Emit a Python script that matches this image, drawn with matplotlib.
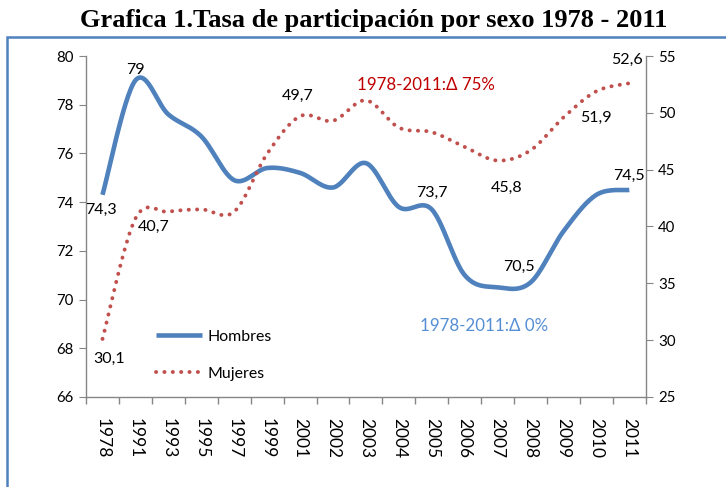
import matplotlib
matplotlib.use('Agg')
import matplotlib.pyplot as plt
from matplotlib.patches import Rectangle
import numpy as np

################################################################

years = ['1978', '1991', '1993', '1995', '1997', '1999', '2001', '2002', '2003',
         '2004', '2005', '2006', '2007', '2008', '2009', '2010', '2011']
hombres = [74.3, 79.0, 77.6, 76.7, 74.9, 75.4, 75.2, 74.6, 75.6,
           73.8, 73.7, 71.0, 70.5, 70.7, 72.8, 74.3, 74.5]
mujeres = [30.1, 40.7, 41.3, 41.5, 41.3, 46.4, 49.7, 49.3, 51.1,
           48.7, 48.3, 47.0, 45.8, 46.7, 49.6, 51.9, 52.6]

# etiquetas de datos: (indice, texto, desplazamiento en puntos)
labels_h = [(0, '74,3', (-1, -11)), (1, '79', (0, 7.5)), (10, '73,7', (0, 12)),
            (12, '70,5', (15, 15)), (16, '74,5', (0, 10))]
labels_m = [(0, '30,1', (5, -14.5)), (1, '40,7', (13, -6)), (6, '49,7', (-2, 14.5)),
            (12, '45,8', (6.5, -20)), (15, '51,9', (0, -19)), (16, '52,6', (-2, 16.5))]

plt.rcParams['font.family'] = ['Lato', 'DejaVu Sans']

################################################################

def smooth_curve(x, y, n=30):
    # Curva suavizada tipo Excel (Bezier con puntos de control a 1/6).
    x = np.asarray(x, float)
    y = np.asarray(y, float)
    P = np.column_stack([x, y])
    out = []
    for i in range(len(P) - 1):
        p0 = P[i - 1] if i > 0 else P[i]
        p1 = P[i]
        p2 = P[i + 1]
        p3 = P[i + 2] if i + 2 < len(P) else P[i + 1]
        c1 = p1 + (p2 - p0) / 6
        c2 = p2 - (p3 - p1) / 6
        t = np.linspace(0, 1, n)[:, None]
        seg = ((1 - t)**3) * p1 + 3 * ((1 - t)**2) * t * c1 + 3 * (1 - t) * t**2 * c2 + t**3 * p2
        out.append(seg if i == 0 else seg[1:])
    out = np.vstack(out)
    return out[:, 0], out[:, 1]

################################################################

fig = plt.figure(figsize=(7.26, 4.87), dpi=100)
ax = fig.add_axes([0.1185, 0.185, 0.771, 0.700])
ax2 = ax.twinx()

x = np.arange(len(years))
xs, ys = smooth_curve(x, hombres)
ax.plot(xs, ys, color='#4F81BD', lw=3.3, solid_capstyle='butt', label='Hombres', zorder=3)
xs2, ys2 = smooth_curve(x, mujeres)
ax2.plot(xs2, ys2, color='#C0504D', lw=2.8, linestyle=(0, (0.05, 2.1)),
         dash_capstyle='round', label='Mujeres', zorder=3)

ax.set_xlim(-0.5, len(years) - 0.5)
ax.set_ylim(66, 80)
ax.set_yticks(np.arange(66, 81, 2))
ax2.set_ylim(25, 55)
ax2.set_yticks(np.arange(25, 56, 5))

ax.set_xticks(x)
ax.set_xticklabels(years, rotation=-90, fontsize=12.5)
ax.set_xticks(np.arange(-0.5, len(years), 1), minor=True)
ax.tick_params(axis='x', which='major', length=0, pad=15)
ax.tick_params(axis='x', which='minor', length=5, color='#868686', width=1)
ax.tick_params(axis='y', length=5, color='#868686', labelsize=10.8, pad=4)
ax2.tick_params(axis='y', length=5, color='#868686', labelsize=10.8, pad=4)

for a in (ax, ax2):
    a.spines['top'].set_visible(False)
    for s in ('left', 'right', 'bottom'):
        a.spines[s].set_color('#868686')
        a.spines[s].set_linewidth(1)
ax2.spines['left'].set_visible(False)
ax2.spines['bottom'].set_visible(False)
ax.spines['right'].set_visible(False)

for i, txt, off in labels_h:
    ax.annotate(txt, (x[i], hombres[i]), xytext=off, textcoords='offset points',
                ha='center', va='center', fontsize=11.5, zorder=5)
for i, txt, off in labels_m:
    ax2.annotate(txt, (x[i], mujeres[i]), xytext=off, textcoords='offset points',
                 ha='center', va='center', fontsize=11.5, zorder=5)

ax2.text(9.82, 52.45, '1978-2011:\u0394 75%', color='#C00000', fontsize=12.2,
         ha='center', va='center')
ax2.text(11.6, 31.25, '1978-2011:\u0394 0%', color='#558ED5', fontsize=12.2,
         ha='center', va='center')

h1, l1 = ax.get_legend_handles_labels()
h2, l2 = ax2.get_legend_handles_labels()
leg = ax2.legend(h1 + h2, l1 + l2, loc='lower left', bbox_to_anchor=(0.1, 0.005),
                 frameon=False, fontsize=11.4, handlelength=2.9, labelspacing=1.47,
                 handletextpad=0.35)

fig.text(0.515, 0.958, 'Grafica 1.Tasa de participaci\u00f3n por sexo 1978 - 2011',
         family='Liberation Serif', weight='bold', fontsize=19, ha='center', va='center')

fig.patches.append(Rectangle((0.0096, -0.05), 1.2, 0.975, transform=fig.transFigure,
                             fill=False, edgecolor='#4F81BD', lw=1.8))

fig.savefig('out.png', dpi=100)
